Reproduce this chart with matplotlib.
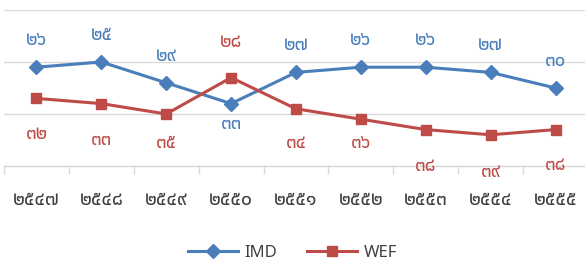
import matplotlib
matplotlib.use("Agg")
import matplotlib.pyplot as plt

# data: competitiveness rank by year (Buddhist era)
years = [2547, 2548, 2549, 2550, 2551, 2552, 2553, 2554, 2555]
imd = [26, 25, 29, 33, 27, 26, 26, 27, 30]
wef = [32, 33, 35, 28, 34, 36, 38, 39, 38]

THAI = str.maketrans("0123456789", "๐๑๒๓๔๕๖๗๘๙")
def thai(n):
    return str(n).translate(THAI)

fonts = ["Noto Sans", "Noto Sans Thai", "Sarabun", "DejaVu Sans"]
plt.rcParams["font.family"] = fonts

c_imd = "#4A7EBB"
c_wef = "#BE4B48"
grid_c = "#D9D9D9"

fig = plt.figure(figsize=(5.85, 2.64), dpi=100)
ax = fig.add_axes([4 / 585, 1 - 166 / 264, 584 / 585, 156 / 264])

x = list(range(len(years)))
ax.plot(x, imd, color=c_imd, lw=2.2, marker="D", ms=7, label="IMD", zorder=3)
ax.plot(x, wef, color=c_wef, lw=2.2, marker="s", ms=7, label="WEF", zorder=3)

ax.set_xlim(-0.5, len(years) - 0.5)
ax.set_ylim(45, 15)
ax.set_yticks([15, 25, 35, 45])
ax.yaxis.grid(True, color=grid_c, lw=1)
ax.set_axisbelow(True)
ax.tick_params(axis="y", left=False, labelleft=False)
for s in ["left", "right", "top"]:
    ax.spines[s].set_visible(False)
ax.spines["bottom"].set_color(grid_c)
ax.spines["bottom"].set_linewidth(1)

ax.set_xticks([i - 0.5 for i in x], minor=False)
ax.set_xticklabels([])
ax.tick_params(axis="x", which="major", length=6, color=grid_c, width=1)
ax.set_xticks(x, minor=True)
ax.set_xticklabels([thai(y) for y in years], minor=True, fontsize=14,
                   color="#404040", fontweight="light")
ax.tick_params(axis="x", which="minor", length=0, pad=17)

# label offsets in pixels (negative = above)
imd_dy = [-27, -27, -27, 20, -27, -27, -27, -27, -27]
wef_dy = [36, 36, 29, -36, 34, 24, 36, 37, 35]
for i in x:
    ax.annotate(thai(imd[i]), (i, imd[i]), xytext=(0, -imd_dy[i] * 0.72),
                textcoords="offset points", ha="center", va="center",
                fontsize=13.5, color=c_imd)
    ax.annotate(thai(wef[i]), (i, wef[i]), xytext=(0, -wef_dy[i] * 0.72),
                textcoords="offset points", ha="center", va="center",
                fontsize=13.5, color=c_wef)

fig.legend(loc="center", bbox_to_anchor=(0.5, 1 - 253 / 264), ncol=2,
           frameon=False, fontsize=12, handlelength=3.0, columnspacing=1.8,
           handletextpad=0.4, labelcolor="#404040")

fig.savefig("out.png", dpi=100)
